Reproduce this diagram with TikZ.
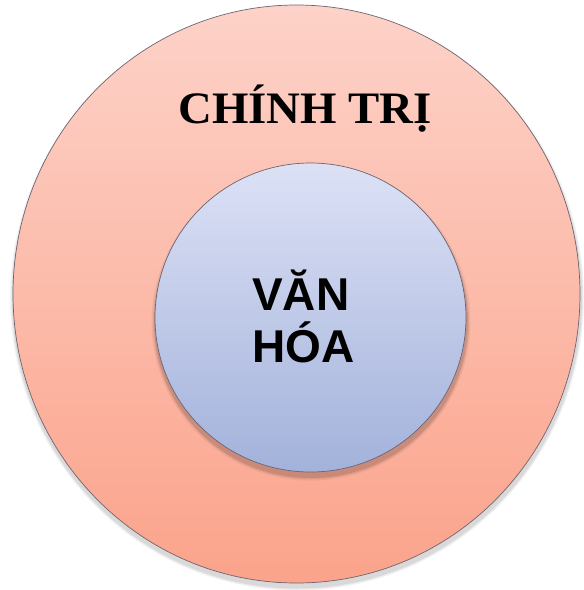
\documentclass[tikz,border=0pt]{standalone}
\usepackage{fontspec}
\setmainfont{Liberation Serif}
\setsansfont{Liberation Sans}
\usetikzlibrary{shapes.geometric}
\definecolor{outertop}{HTML}{FDD2C8}
\definecolor{outerbot}{HTML}{FBA38B}
\definecolor{innertop}{HTML}{DCE1F5}
\definecolor{innerbot}{HTML}{A3B2DB}
\definecolor{rim}{HTML}{6E6470}
\tikzset{
  ring/.style={ellipse, inner sep=0pt, draw=rim, line width=0.7pt},
  shade/.style={ellipse, inner sep=0pt, fill=black, draw=none},
  serifbig/.style={font=\bfseries\fontsize{45}{50}\selectfont, inner sep=0pt},
  sansbig/.style={font=\sffamily\bfseries\fontsize{46}{52}\selectfont, inner sep=0pt, align=left},
}
\begin{document}
\begin{tikzpicture}[x=1pt,y=-1pt]
\useasboundingbox (0,0) rectangle (584,590);
% soft shadows
\foreach \d/\o in {7/0.04,5/0.05,3/0.07}{
  \node[shade, opacity=\o, minimum width=567+\d, minimum height=578+\d] (os\d) at (297,298) {};
}
% outer circle
\node[ring, top color=outertop, bottom color=outerbot, minimum width=567pt, minimum height=578pt] (outer) at (296.5,294) {};
\foreach \d/\o in {8/0.05,5/0.07,3/0.09}{
  \node[shade, opacity=\o, minimum width=311+\d, minimum height=309+\d] (is\d) at (311,322) {};
}
% inner circle
\node[ring, top color=innertop, bottom color=innerbot, minimum width=311pt, minimum height=309pt] (inner) at (310.5,317.5) {};
% labels
\node[serifbig, anchor=base, xscale=1.04] (chinhtri) at (305,123) {CHÍNH TRỊ};
\node[sansbig, anchor=base west] (vanhoa) at (252,362) {VĂN\\HÓA};
\end{tikzpicture}
\end{document}
